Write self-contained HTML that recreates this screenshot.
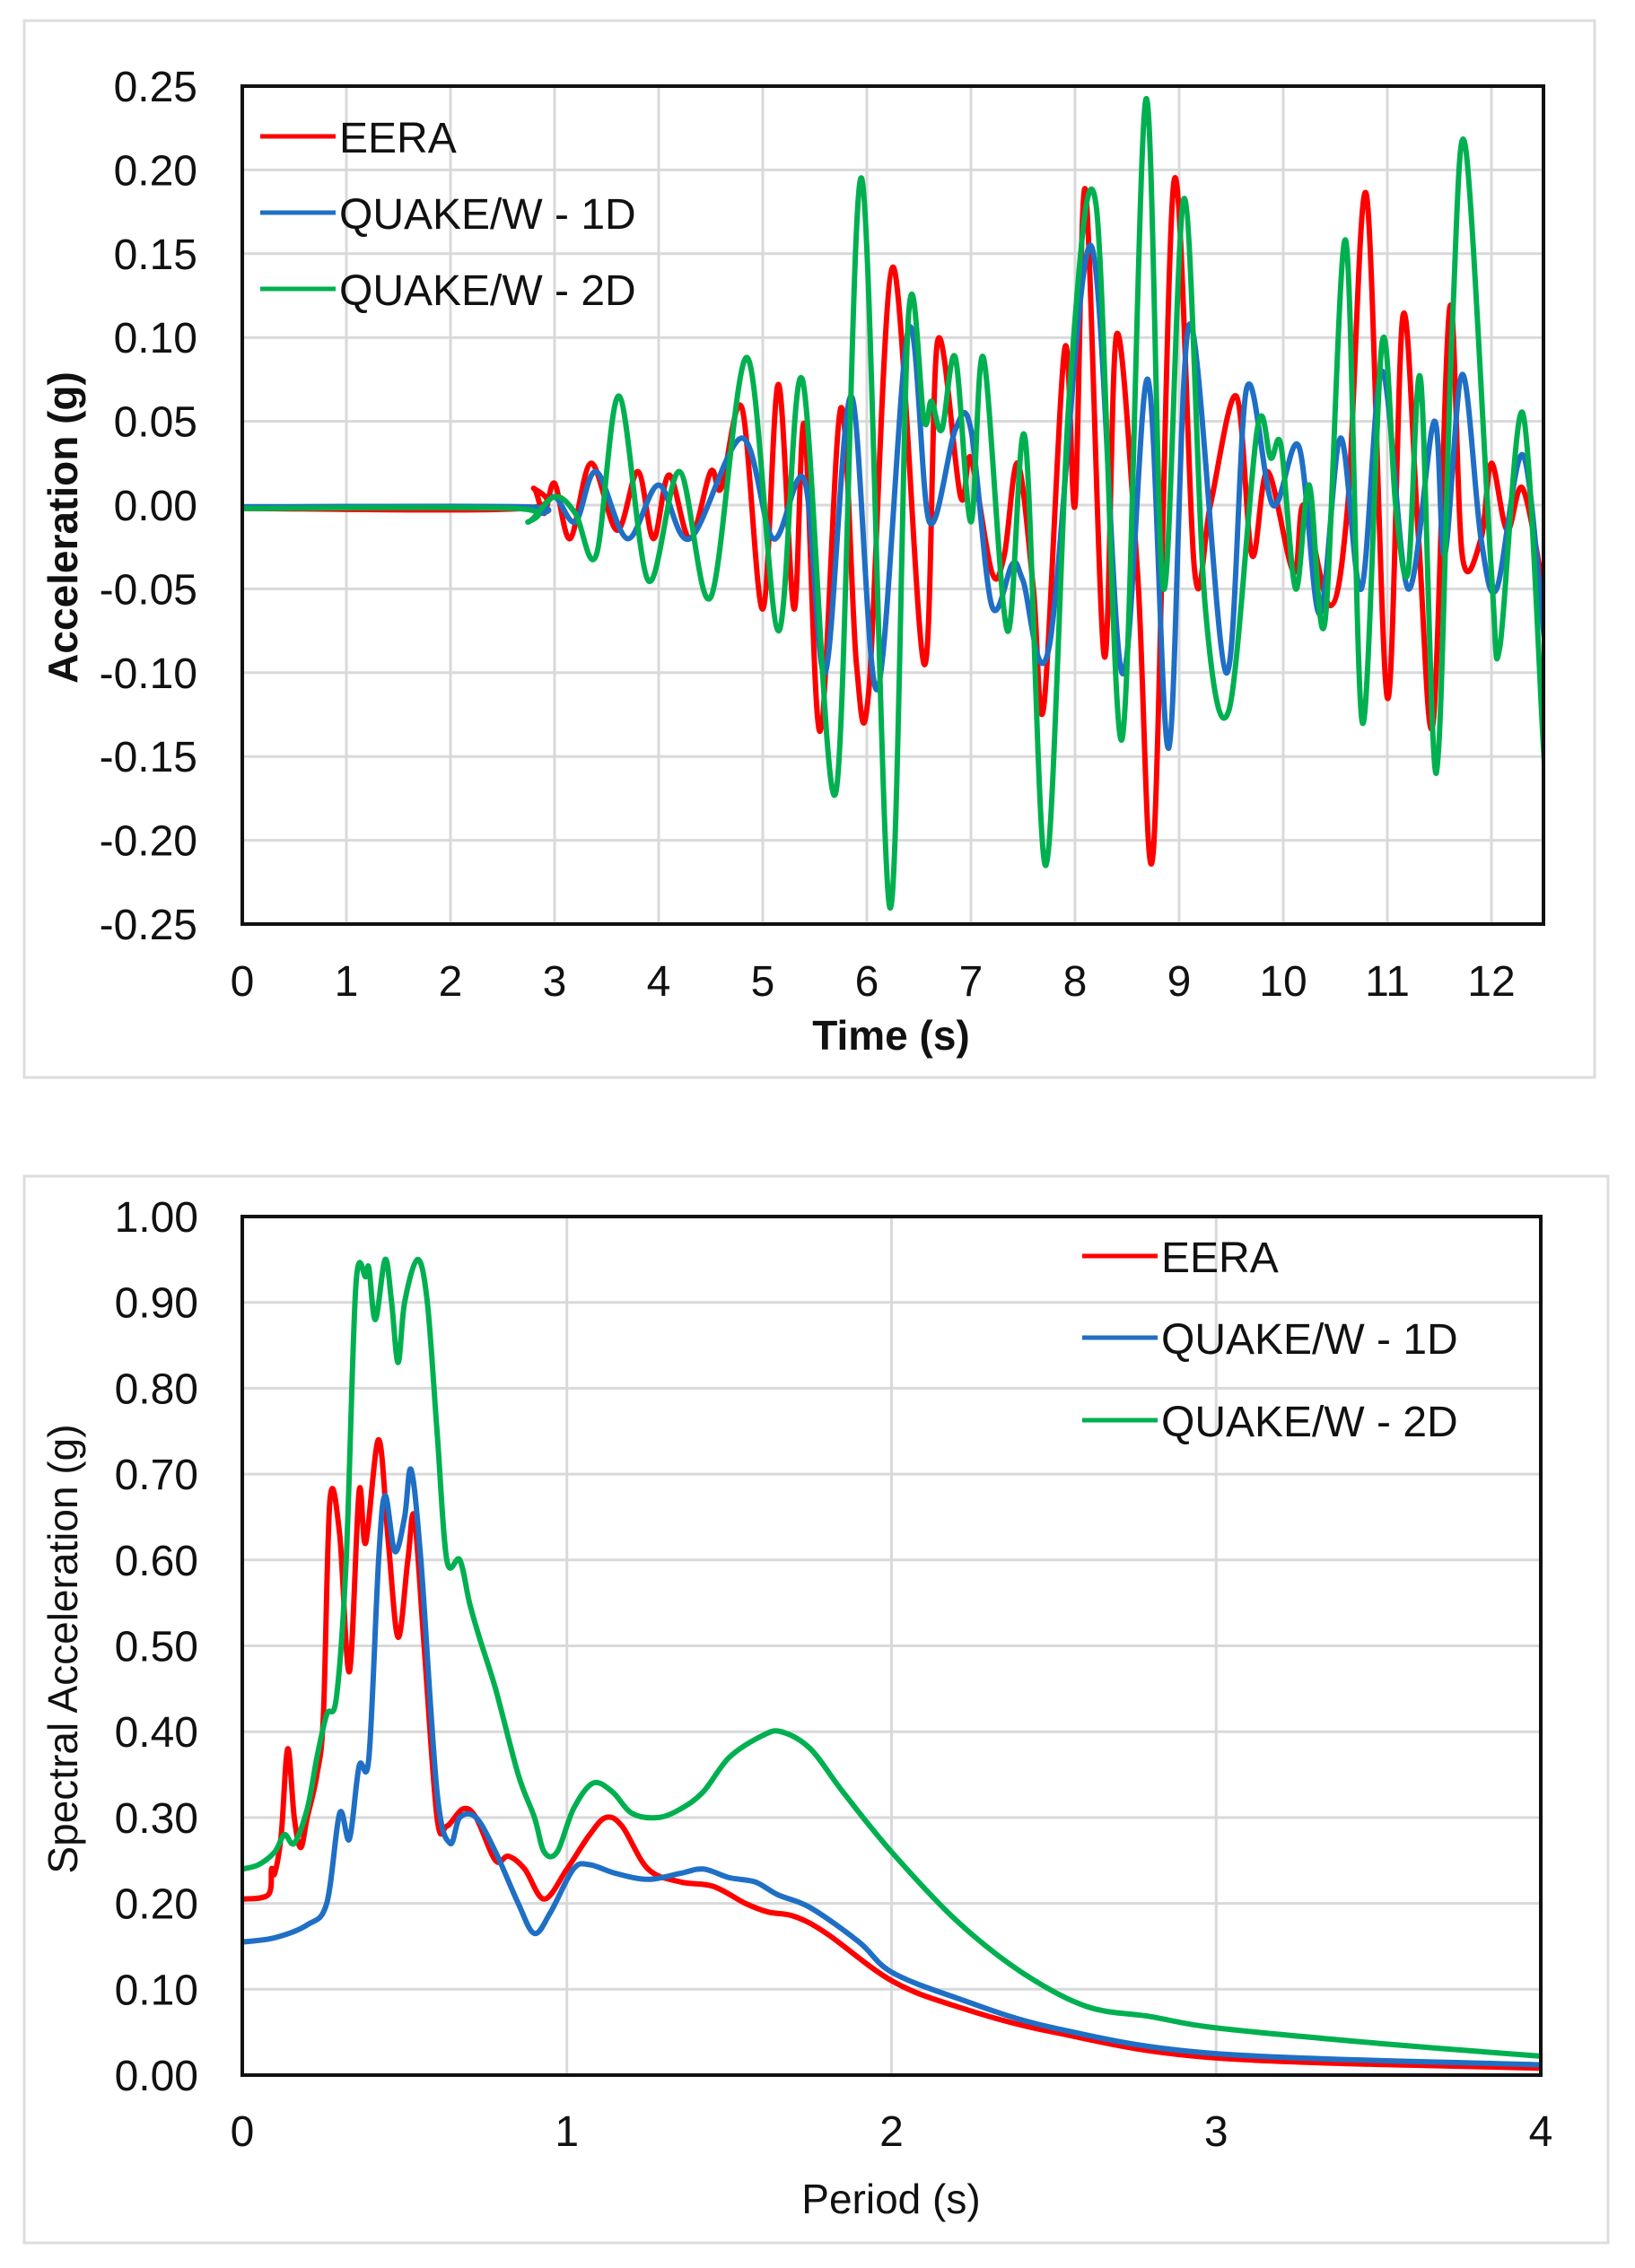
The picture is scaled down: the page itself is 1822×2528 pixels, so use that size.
<!DOCTYPE html>
<html><head><meta charset="utf-8"><style>
html,body{margin:0;padding:0;background:#fff}
svg{display:block}
text{font-family:"Liberation Sans",sans-serif;fill:#111}
</style></head><body>
<svg id="s" width="1822" height="2528" viewBox="0 0 1822 2528" xmlns="http://www.w3.org/2000/svg">
<rect x="27" y="23" width="1750" height="1178" fill="#fff" stroke="#ddd" stroke-width="3"/>
<rect x="27" y="1311" width="1765" height="1189" fill="#fff" stroke="#ddd" stroke-width="3"/>
<g id="g1"></g>
<g id="g2"></g>
<line x1="290" y1="152" x2="374" y2="152" stroke="#ff0000" stroke-width="5"/>
<line x1="290" y1="237" x2="374" y2="237" stroke="#1f6fc5" stroke-width="5"/>
<line x1="290" y1="322" x2="374" y2="322" stroke="#00b050" stroke-width="5"/>
<text x="378" y="170" font-size="48">EERA</text>
<text x="378" y="255" font-size="48">QUAKE/W - 1D</text>
<text x="378" y="340" font-size="48">QUAKE/W - 2D</text>
<line x1="1206" y1="1400" x2="1290" y2="1400" stroke="#ff0000" stroke-width="5"/>
<line x1="1206" y1="1491" x2="1290" y2="1491" stroke="#1f6fc5" stroke-width="5"/>
<line x1="1206" y1="1583" x2="1290" y2="1583" stroke="#00b050" stroke-width="5"/>
<text x="1294" y="1418" font-size="48">EERA</text>
<text x="1294" y="1509" font-size="48">QUAKE/W - 1D</text>
<text x="1294" y="1601" font-size="48">QUAKE/W - 2D</text>
<text x="993" y="1170" font-size="46" font-weight="bold" text-anchor="middle">Time (s)</text>
<text transform="translate(86,588) rotate(-90)" font-size="46" font-weight="bold" text-anchor="middle">Acceleration (g)</text>
<text x="993" y="2467" font-size="46" text-anchor="middle">Period (s)</text>
<text transform="translate(86,1838) rotate(-90)" font-size="46" text-anchor="middle">Spectral Acceleration (g)</text>
</svg>
<script>
var NS="http://www.w3.org/2000/svg";
function el(p,n,a,t){var e=document.createElementNS(NS,n);for(var k in a)e.setAttribute(k,a[k]);if(t!==undefined)e.textContent=t;p.appendChild(e);return e;}
function path(pts,fx,fy){var P=pts.map(function(p){return [fx(p[0]),fy(p[1])];});var d="M"+P[0][0].toFixed(1)+","+P[0][1].toFixed(1);
for(var i=0;i<P.length-1;i++){var p0=P[i-1]||P[i],p1=P[i],p2=P[i+1],p3=P[i+2]||P[i+1];
var c1x=p1[0]+(p2[0]-p0[0])/6,c1y=p1[1]+(p2[1]-p0[1])/6,c2x=p2[0]-(p3[0]-p1[0])/6,c2y=p2[1]-(p3[1]-p1[1])/6;
d+="C"+c1x.toFixed(1)+","+c1y.toFixed(1)+" "+c2x.toFixed(1)+","+c2y.toFixed(1)+" "+p2[0].toFixed(1)+","+p2[1].toFixed(1);}
return d;}
var g1=document.getElementById("g1");
var L=270,R=1720,T=96,B=1030;
var fx1=function(t){return L+t*116;}, fy1=function(a){return 563-a*1868;};
for(var i=1;i<=12;i++)el(g1,"line",{x1:fx1(i),y1:T,x2:fx1(i),y2:B,stroke:"#d9d9d9","stroke-width":3});
for(var k=-4;k<=4;k++){var v=k*0.05;el(g1,"line",{x1:L,y1:fy1(v),x2:R,y2:fy1(v),stroke:"#d9d9d9","stroke-width":3});}
for(var k=-5;k<=5;k++){var v=k*0.05;el(g1,"text",{x:220,y:fy1(v)+17,"font-size":48,"text-anchor":"end"},(v<-1e-9?"-":"")+Math.abs(v).toFixed(2));}
for(var i=0;i<=12;i++)el(g1,"text",{x:fx1(i),y:1110,"font-size":48,"text-anchor":"middle"},""+i);
var red=[[0,-0.002],[2.7,-0.002],[2.8,0.01],[2.9,-0.005],[3.0,0.013],[3.15,-0.02],[3.35,0.025],[3.6,-0.015],[3.8,0.02],[3.95,-0.02],[4.1,0.018],[4.3,-0.02],[4.5,0.02],[4.6,0.01],[4.8,0.058],[5.0,-0.062],[5.15,0.072],[5.3,-0.062],[5.4,0.048],[5.55,-0.135],[5.75,0.058],[5.9,-0.095],[6.02,-0.11],[6.25,0.142],[6.55,-0.095],[6.68,0.098],[6.9,0.005],[7.0,0.028],[7.2,-0.04],[7.32,-0.03],[7.45,0.025],[7.6,-0.05],[7.7,-0.12],[7.9,0.093],[8.0,0.0],[8.1,0.188],[8.28,-0.09],[8.4,0.102],[8.6,-0.04],[8.75,-0.208],[8.95,0.193],[9.15,-0.04],[9.3,0.0],[9.55,0.065],[9.7,-0.03],[9.85,0.02],[10.1,-0.04],[10.2,0.0],[10.45,-0.06],[10.62,0.0],[10.8,0.185],[11.0,-0.115],[11.15,0.113],[11.3,-0.02],[11.44,-0.13],[11.6,0.118],[11.72,-0.03],[11.9,-0.02],[12.0,0.025],[12.15,-0.015],[12.3,0.01],[12.5,-0.05],[12.5,-0.05]];
var blue=[[0,-0.001],[2.7,-0.001],[2.85,-0.005],[3.0,0.005],[3.2,-0.01],[3.4,0.02],[3.7,-0.02],[4.0,0.012],[4.3,-0.02],[4.8,0.04],[5.1,-0.02],[5.4,0.015],[5.6,-0.1],[5.85,0.065],[6.1,-0.11],[6.4,0.105],[6.6,-0.01],[6.85,0.045],[7.0,0.045],[7.2,-0.06],[7.4,-0.035],[7.5,-0.045],[7.75,-0.085],[8.15,0.155],[8.45,-0.1],[8.7,0.075],[8.9,-0.145],[9.1,0.108],[9.45,-0.1],[9.65,0.07],[9.9,0.0],[10.15,0.035],[10.35,-0.065],[10.55,0.04],[10.75,-0.05],[10.95,0.08],[11.2,-0.05],[11.45,0.05],[11.55,-0.03],[11.72,0.078],[11.9,-0.02],[12.05,-0.05],[12.3,0.03],[12.5,-0.075],[12.5,-0.075]];
var green=[[0,-0.002],[2.62,-0.002],[2.75,-0.01],[3.0,0.005],[3.2,-0.005],[3.4,-0.03],[3.62,0.065],[3.9,-0.045],[4.2,0.02],[4.5,-0.055],[4.85,0.088],[5.15,-0.075],[5.38,0.075],[5.7,-0.172],[5.95,0.195],[6.22,-0.24],[6.4,0.113],[6.55,0.05],[6.62,0.062],[6.72,0.045],[6.85,0.088],[7.0,-0.01],[7.12,0.088],[7.35,-0.075],[7.52,0.04],[7.72,-0.215],[7.95,0.07],[8.2,0.18],[8.45,-0.14],[8.68,0.242],[8.85,-0.05],[9.05,0.183],[9.25,-0.06],[9.48,-0.122],[9.75,0.045],[9.88,0.028],[9.98,0.035],[10.12,-0.05],[10.25,0.012],[10.4,-0.07],[10.6,0.158],[10.76,-0.13],[10.95,0.097],[11.08,0.0],[11.2,-0.04],[11.32,0.075],[11.47,-0.16],[11.62,0.1],[11.75,0.214],[12.0,-0.04],[12.08,-0.085],[12.3,0.055],[12.5,-0.145],[12.5,-0.145]];
var cp=el(g1,"clipPath",{id:"c1"});el(cp,"rect",{x:L,y:T,width:R-L,height:B-T});
[[red,"#ff0000"],[blue,"#1f6fc5"],[green,"#00b050"]].forEach(function(s){el(g1,"path",{d:path(s[0],fx1,fy1),fill:"none",stroke:s[1],"stroke-width":6,"stroke-linejoin":"round","clip-path":"url(#c1)"});});
el(g1,"rect",{x:L,y:T,width:R-L,height:B-T,fill:"none",stroke:"#111","stroke-width":4});
var g2=document.getElementById("g2");
var L2=270,R2=1717,T2=1356,B2=2313;
var fx2=function(p){return L2+p*361.75;}, fy2=function(a){return B2-a*957;};
for(var i=1;i<=3;i++)el(g2,"line",{x1:fx2(i),y1:T2,x2:fx2(i),y2:B2,stroke:"#d9d9d9","stroke-width":3});
for(var k=1;k<10;k++)el(g2,"line",{x1:L2,y1:fy2(k/10),x2:R2,y2:fy2(k/10),stroke:"#d9d9d9","stroke-width":3});
for(var k=0;k<=10;k++)el(g2,"text",{x:221,y:fy2(k/10)+17,"font-size":48,"text-anchor":"end"},(k/10).toFixed(2));
for(var i=0;i<=4;i++)el(g2,"text",{x:fx2(i),y:2392,"font-size":48,"text-anchor":"middle"},""+i);
var sg=[[0,0.24],[0.05,0.245],[0.1,0.26],[0.13,0.28],[0.16,0.27],[0.2,0.31],[0.23,0.37],[0.26,0.42],[0.29,0.44],[0.32,0.6],[0.35,0.92],[0.38,0.93],[0.39,0.94],[0.41,0.88],[0.44,0.95],[0.46,0.9],[0.48,0.83],[0.5,0.9],[0.54,0.95],[0.57,0.9],[0.6,0.75],[0.63,0.6],[0.67,0.6],[0.7,0.55],[0.73,0.51],[0.78,0.45],[0.85,0.35],[0.9,0.3],[0.93,0.26],[0.97,0.26],[1.02,0.31],[1.08,0.34],[1.14,0.33],[1.2,0.305],[1.28,0.3],[1.35,0.31],[1.42,0.33],[1.5,0.37],[1.6,0.395],[1.66,0.4],[1.75,0.38],[1.85,0.33],[2.0,0.26],[2.2,0.18],[2.4,0.12],[2.6,0.08],[2.8,0.068],[3.0,0.055],[3.5,0.037],[4.0,0.022]];
var sr=[[0,0.205],[0.08,0.21],[0.09,0.24],[0.1,0.235],[0.12,0.28],[0.14,0.38],[0.16,0.3],[0.18,0.265],[0.2,0.3],[0.23,0.35],[0.25,0.42],[0.27,0.67],[0.3,0.63],[0.33,0.47],[0.36,0.68],[0.38,0.62],[0.42,0.74],[0.45,0.62],[0.48,0.51],[0.51,0.6],[0.53,0.65],[0.56,0.5],[0.6,0.3],[0.63,0.29],[0.68,0.31],[0.72,0.3],[0.78,0.25],[0.82,0.255],[0.87,0.24],[0.93,0.205],[1.0,0.24],[1.07,0.28],[1.12,0.3],[1.17,0.29],[1.25,0.24],[1.35,0.225],[1.45,0.22],[1.55,0.2],[1.62,0.19],[1.7,0.185],[1.8,0.165],[2.0,0.11],[2.2,0.08],[2.5,0.05],[3.0,0.02],[4.0,0.008]];
var sb=[[0,0.155],[0.1,0.16],[0.2,0.175],[0.26,0.2],[0.3,0.305],[0.33,0.275],[0.36,0.36],[0.39,0.37],[0.42,0.6],[0.44,0.675],[0.47,0.61],[0.5,0.65],[0.52,0.705],[0.55,0.6],[0.6,0.33],[0.64,0.27],[0.67,0.3],[0.72,0.3],[0.78,0.26],[0.85,0.2],[0.9,0.165],[0.95,0.19],[1.02,0.24],[1.07,0.245],[1.15,0.235],[1.25,0.228],[1.35,0.235],[1.42,0.24],[1.5,0.23],[1.58,0.225],[1.65,0.21],[1.75,0.195],[1.9,0.155],[2.0,0.12],[2.2,0.09],[2.5,0.055],[3.0,0.025],[4.0,0.012]];
[[sr,"#ff0000"],[sb,"#1f6fc5"],[sg,"#00b050"]].forEach(function(s){el(g2,"path",{d:path(s[0],fx2,fy2),fill:"none",stroke:s[1],"stroke-width":6,"stroke-linejoin":"round"});});
el(g2,"rect",{x:L2,y:T2,width:R2-L2,height:B2-T2,fill:"none",stroke:"#111","stroke-width":4});
</script>
</body></html>
